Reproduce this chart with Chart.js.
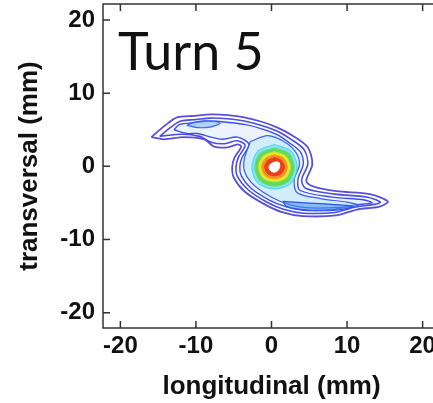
<!DOCTYPE html>
<html lang="en">
<head>
  <meta charset="UTF-8">
  <title>Turn 5</title>
  <script src="https://cdn.jsdelivr.net/npm/chart.js"></script>
  <style>
    html, body { margin: 0; padding: 0; background: #fff; overflow: hidden; }
    #wrap { position: absolute; left: 0; top: 0; width: 445px; height: 403px; }
  </style>
</head>
<body>
  <div id="wrap">
    <canvas id="contourChart" width="445" height="403"></canvas>
  </div>

<script>
// axis ranges / ticks (mm)
const xRange = [-22.3, 22.3];
const yRange = [-22.1, 22.2];
const tickStep = 10;

// contour lines, [longitudinal, transversal] in mm
const outerContour = [[-15.9,4.0],[-14.2,5.5],[-12.5,6.7],[-10.2,6.9],[-8.0,7.1],[-5.8,7.0],[-3.6,6.7],[-1.3,6.1],[0.8,5.3],[2.8,4.2],[4.8,2.6],[5.4,0.3],[4.6,-2.0],[5.4,-2.7],[8.6,-3.4],[13.0,-3.8],[15.4,-4.8],[14.3,-5.5],[11.3,-5.9],[8.6,-6.7],[4.1,-6.8],[1.5,-6.3],[-0.9,-5.2],[-3.6,-3.4],[-5.0,-1.5],[-5.2,-0.1],[-4.9,1.2],[-4.0,2.7],[-4.5,3.0],[-5.8,2.6],[-7.6,2.7],[-8.9,3.7],[-11.6,4.0],[-14.2,3.7]];
const secondContour = [[-14.8,4.1],[-13.4,5.3],[-12.0,6.2],[-10.0,6.4],[-8.0,6.6],[-5.8,6.5],[-3.6,6.2],[-1.3,5.6],[0.8,4.8],[2.6,3.7],[4.3,2.3],[4.8,0.3],[4.0,-1.8],[4.5,-3.0],[8.4,-3.8],[12.6,-4.2],[14.4,-4.9],[13.6,-5.2],[11.0,-5.6],[8.4,-6.3],[4.2,-6.4],[1.7,-5.9],[-0.6,-4.9],[-3.1,-3.2],[-4.5,-1.4],[-4.7,-0.1],[-4.4,1.2],[-3.5,2.9],[-4.6,3.5],[-6.2,3.1],[-8.0,3.3],[-9.5,4.1],[-11.8,4.4]];
const thirdContour = [[-12.9,5.0],[-12.2,5.7],[-10.2,6.0],[-8.0,6.2],[-5.6,6.0],[-3.4,5.7],[-1.2,5.1],[0.8,4.3],[2.4,3.2],[3.8,2.0],[4.2,0.3],[3.5,-1.8],[3.8,-3.3],[8.0,-4.2],[12.3,-4.6],[13.3,-5.0],[10.8,-5.3],[8.2,-5.9],[4.3,-6.0],[1.9,-5.5],[-0.3,-4.6],[-2.7,-3.0],[-4.0,-1.3],[-4.2,0.0],[-3.9,1.2],[-3.0,3.0],[-4.5,4.0],[-6.5,3.7],[-8.0,4.0],[-9.8,4.5],[-11.2,4.5]];
const coreHalo = [[-2.8,3.4],[-0.5,4.2],[1.8,3.3],[3.3,1.8],[3.7,0.2],[3.0,-1.8],[3.4,-3.6],[6.5,-4.4],[10.0,-4.9],[11.5,-5.3],[9.0,-5.6],[6.0,-5.7],[3.5,-5.5],[1.2,-4.8],[-1.0,-3.6],[-2.7,-2.2],[-3.6,-0.6],[-3.6,1.0]];
const upperIsland = [[-11.2,5.6],[-10.0,6.1],[-8.4,6.2],[-6.8,5.9],[-8.0,5.4],[-9.8,5.3]];
const lowerBand = [[1.5,-4.8],[4.5,-5.0],[8.0,-5.2],[10.8,-5.5],[8.5,-6.0],[5.0,-6.0],[2.0,-5.5]];

// core levels, outside to inside
const coreCyan   = [[0.4,3.0],[2.6,2.1],[3.4,-0.1],[2.6,-2.3],[0.4,-3.1],[-1.8,-2.3],[-2.6,-0.1],[-1.8,2.1]];
const coreGreen  = [[0.4,2.5],[2.3,1.8],[3.0,-0.1],[2.3,-2.0],[0.4,-2.7],[-1.5,-2.0],[-2.2,-0.1],[-1.5,1.8]];
const coreYellow = [[0.4,2.0],[1.9,1.4],[2.5,-0.1],[1.9,-1.6],[0.4,-2.1],[-1.1,-1.6],[-1.7,-0.1],[-1.1,1.4]];
const coreOrange = [[0.4,1.6],[1.6,1.1],[2.1,-0.1],[1.6,-1.3],[0.4,-1.7],[-0.8,-1.3],[-1.3,-0.1],[-0.8,1.1]];
const coreRed    = [[0.4,1.2],[1.3,0.8],[1.7,-0.1],[1.3,-1.0],[0.4,-1.3],[-0.5,-1.0],[-0.9,-0.1],[-0.5,0.8]];
const corePeak   = [[0.2,0.5],[0.9,0.6],[1.1,0.0],[0.8,-0.6],[0.3,-0.8],[-0.2,-0.5],[-0.3,0.1]];

function closed(pts) {
  return pts.concat([pts[0]]).map(p => ({ x: p[0], y: p[1] }));
}

function contour(pts, stroke, fillColor, width, order) {
  return {
    data: closed(pts),
    showLine: true,
    borderColor: stroke,
    borderWidth: width,
    backgroundColor: fillColor || 'transparent',
    fill: fillColor ? 'shape' : false,
    tension: 0.3,
    pointRadius: 0,
    order: order
  };
}

const datasets = [
  contour(outerContour, '#5b4fd8', null, 1.8, 20),
  contour(secondContour, '#4b4ee0', 'rgba(240,244,255,0.5)', 1.6, 19),
  contour(thirdContour, '#3d50e6', 'rgba(225,238,255,0.5)', 1.4, 18),
  contour(upperIsland, '#3a62ea', 'rgba(120,175,245,0.5)', 1.2, 17),
  contour(coreHalo, '#3a5ff0', 'rgba(175,228,252,0.45)', 1.2, 16),
  contour(lowerBand, '#2a55e6', 'rgba(70,140,240,0.55)', 1.2, 15),
  contour(coreCyan, 'rgba(60,200,235,0.8)', 'rgba(110,225,240,0.8)', 1, 6),
  contour(coreGreen, '#6ad86a', '#5fdc5a', 1, 5),
  contour(coreYellow, '#d8e030', '#e6e82e', 1, 4),
  contour(coreOrange, '#f59a1c', '#f7901a', 1, 3),
  contour(coreRed, '#e8401c', '#e8401c', 1, 2),
  contour(corePeak, '#ffffff', '#ffffff', 1, 1)
];

// frame, inward ticks and panel label
const framePlugin = {
  id: 'frame',
  afterDraw(chart) {
    const ctx = chart.ctx;
    const a = chart.chartArea;
    const xs = chart.scales.x, ys = chart.scales.y;
    const tl = 7;
    ctx.save();
    ctx.strokeStyle = '#333';
    ctx.lineWidth = 1.5;
    ctx.strokeRect(a.left, a.top, a.right - a.left, a.bottom - a.top);
    ctx.beginPath();
    xs.ticks.forEach(t => {
      const px = xs.getPixelForValue(t.value);
      ctx.moveTo(px, a.bottom); ctx.lineTo(px, a.bottom - tl);
      ctx.moveTo(px, a.top); ctx.lineTo(px, a.top + tl);
    });
    ys.ticks.forEach(t => {
      const py = ys.getPixelForValue(t.value);
      ctx.moveTo(a.left, py); ctx.lineTo(a.left + tl, py);
      ctx.moveTo(a.right, py); ctx.lineTo(a.right - tl, py);
    });
    ctx.stroke();
    ctx.fillStyle = '#111';
    ctx.font = '52px Lato, "Open Sans", sans-serif';
    ctx.textBaseline = 'alphabetic';
    ctx.fillText('Turn 5', a.left + 15, 70);
    ctx.restore();
  }
};

const tickFont = { family: '"Liberation Sans", Arial, sans-serif', weight: 'bold', size: 24 };
const titleFont = { family: '"Liberation Sans", Arial, sans-serif', weight: 'bold', size: 26 };

new Chart(document.getElementById('contourChart'), {
  type: 'scatter',
  data: { datasets: datasets },
  options: {
    responsive: false,
    animation: false,
    layout: { padding: { top: 4, right: 5, left: 0, bottom: 0 } },
    plugins: { legend: { display: false }, tooltip: { enabled: false } },
    scales: {
      x: {
        type: 'linear',
        min: xRange[0],
        max: xRange[1],
        grid: { display: false, drawTicks: false },
        border: { display: false },
        ticks: { stepSize: tickStep, includeBounds: false, font: tickFont, color: '#111', padding: 4, maxRotation: 0 },
        title: { display: true, text: 'longitudinal (mm)', font: titleFont, color: '#111', padding: { top: 0, bottom: 1 } },
        afterFit: s => { s.height = 75; s.paddingLeft = 0; s.paddingRight = 0; }
      },
      y: {
        type: 'linear',
        min: yRange[0],
        max: yRange[1],
        grid: { display: false, drawTicks: false },
        border: { display: false },
        ticks: { stepSize: tickStep, includeBounds: false, font: tickFont, color: '#111', padding: 8 },
        title: { display: true, text: 'transversal (mm)', font: titleFont, color: '#111', padding: { top: 14, bottom: 0 } },
        afterFit: s => { s.width = 103; s.paddingTop = 0; s.paddingBottom = 0; }
      }
    }
  },
  plugins: [framePlugin]
});
</script>
</body>
</html>
